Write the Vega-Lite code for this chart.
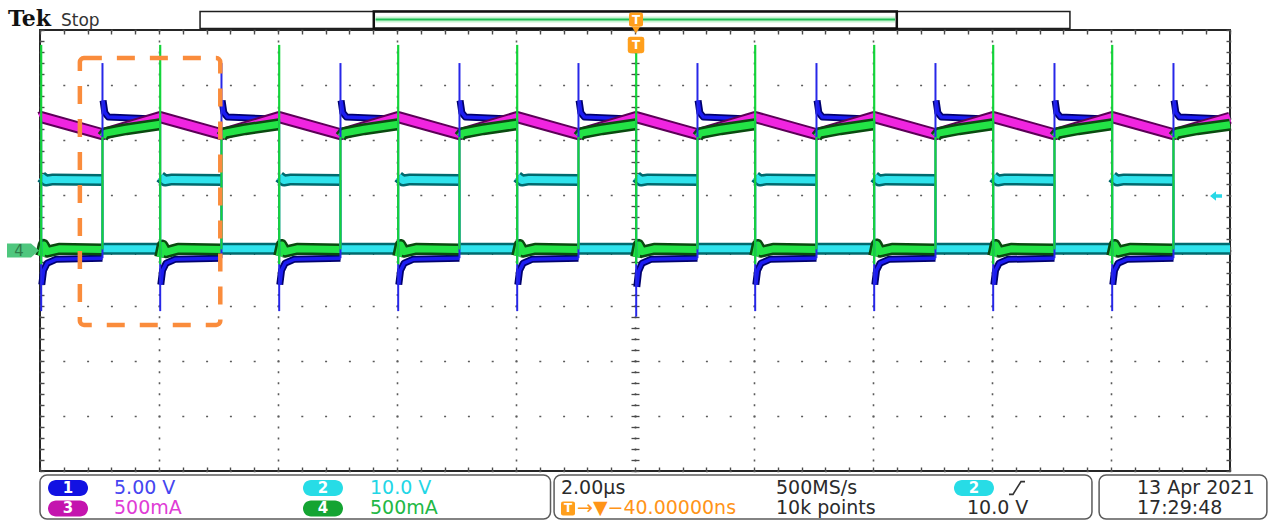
{
"$schema":"https://vega.github.io/schema/vega-lite/v6.json",
"width":1190,"height":441,
"autosize":{"type":"none"},
"padding":{"left":40,"top":30,"right":49,"bottom":50},
"background":"white",
"config":{"view":{"stroke":"#262626","strokeWidth":2},"axis":{"title":null,"labels":false,"domain":false,"ticks":false,"grid":false}},
"datasets":{
"m":[{"s":"m","t":-10,"v":2.41},{"s":"m","t":-9.98,"v":2.42},{"s":"m","t":-8.95,"v":2.11},{"s":"m","t":-7.98,"v":2.42},{"s":"m","t":-6.95,"v":2.11},{"s":"m","t":-5.98,"v":2.42},{"s":"m","t":-4.95,"v":2.11},{"s":"m","t":-3.98,"v":2.42},{"s":"m","t":-2.95,"v":2.11},{"s":"m","t":-1.98,"v":2.42},{"s":"m","t":-0.95,"v":2.11},{"s":"m","t":0.02,"v":2.42},{"s":"m","t":1.05,"v":2.11},{"s":"m","t":2.02,"v":2.42},{"s":"m","t":3.05,"v":2.11},{"s":"m","t":4.02,"v":2.42},{"s":"m","t":5.05,"v":2.11},{"s":"m","t":6.02,"v":2.42},{"s":"m","t":7.05,"v":2.11},{"s":"m","t":8.02,"v":2.42},{"s":"m","t":9.05,"v":2.11},{"s":"m","t":10,"v":2.41}],
"g":[
{"s":"a-5","t":-9.98,"v":-0.1},{"s":"a-5","t":-9.94,"v":0.1},{"s":"a-5","t":-9.88,"v":-0.02},{"s":"a-5","t":-9.68,"v":0.03},{"s":"a-5","t":-8.95,"v":0.02},
{"s":"b-5","t":-8.95,"v":2.06},{"s":"b-5","t":-8.9,"v":2.13},{"s":"b-5","t":-8.55,"v":2.2},{"s":"b-5","t":-7.98,"v":2.29},
{"s":"a-4","t":-7.98,"v":-0.12},{"s":"a-4","t":-7.94,"v":0.09},{"s":"a-4","t":-7.88,"v":-0.03},{"s":"a-4","t":-7.68,"v":0.03},{"s":"a-4","t":-6.95,"v":0.02},
{"s":"b-4","t":-6.95,"v":2.06},{"s":"b-4","t":-6.9,"v":2.13},{"s":"b-4","t":-6.55,"v":2.2},{"s":"b-4","t":-5.98,"v":2.29},
{"s":"a-3","t":-5.98,"v":-0.1},{"s":"a-3","t":-5.94,"v":0.1},{"s":"a-3","t":-5.88,"v":-0.02},{"s":"a-3","t":-5.68,"v":0.03},{"s":"a-3","t":-4.95,"v":0.02},
{"s":"b-3","t":-4.95,"v":2.06},{"s":"b-3","t":-4.9,"v":2.13},{"s":"b-3","t":-4.55,"v":2.2},{"s":"b-3","t":-3.98,"v":2.29},
{"s":"a-2","t":-3.98,"v":-0.11},{"s":"a-2","t":-3.94,"v":0.1},{"s":"a-2","t":-3.88,"v":-0.02},{"s":"a-2","t":-3.68,"v":0.03},{"s":"a-2","t":-2.95,"v":0.02},
{"s":"b-2","t":-2.95,"v":2.06},{"s":"b-2","t":-2.9,"v":2.13},{"s":"b-2","t":-2.55,"v":2.2},{"s":"b-2","t":-1.98,"v":2.29},
{"s":"a-1","t":-1.98,"v":-0.1},{"s":"a-1","t":-1.94,"v":0.1},{"s":"a-1","t":-1.88,"v":-0.02},{"s":"a-1","t":-1.68,"v":0.03},{"s":"a-1","t":-0.95,"v":0.02},
{"s":"b-1","t":-0.95,"v":2.06},{"s":"b-1","t":-0.9,"v":2.13},{"s":"b-1","t":-0.55,"v":2.2},{"s":"b-1","t":0.02,"v":2.29},
{"s":"a0","t":0.02,"v":-0.12},{"s":"a0","t":0.06,"v":0.1},{"s":"a0","t":0.12,"v":-0.02},{"s":"a0","t":0.32,"v":0.03},{"s":"a0","t":1.05,"v":0.02},
{"s":"b0","t":1.05,"v":2.06},{"s":"b0","t":1.1,"v":2.13},{"s":"b0","t":1.45,"v":2.2},{"s":"b0","t":2.02,"v":2.29},
{"s":"a1","t":2.02,"v":-0.1},{"s":"a1","t":2.06,"v":0.1},{"s":"a1","t":2.12,"v":-0.02},{"s":"a1","t":2.32,"v":0.03},{"s":"a1","t":3.05,"v":0.02},
{"s":"b1","t":3.05,"v":2.06},{"s":"b1","t":3.1,"v":2.13},{"s":"b1","t":3.45,"v":2.2},{"s":"b1","t":4.02,"v":2.29},
{"s":"a2","t":4.02,"v":-0.1},{"s":"a2","t":4.06,"v":0.11},{"s":"a2","t":4.12,"v":-0.02},{"s":"a2","t":4.32,"v":0.03},{"s":"a2","t":5.05,"v":0.02},
{"s":"b2","t":5.05,"v":2.06},{"s":"b2","t":5.1,"v":2.13},{"s":"b2","t":5.45,"v":2.2},{"s":"b2","t":6.02,"v":2.29},
{"s":"a3","t":6.02,"v":-0.1},{"s":"a3","t":6.06,"v":0.1},{"s":"a3","t":6.12,"v":-0.02},{"s":"a3","t":6.32,"v":0.03},{"s":"a3","t":7.05,"v":0.02},
{"s":"b3","t":7.05,"v":2.06},{"s":"b3","t":7.1,"v":2.13},{"s":"b3","t":7.45,"v":2.2},{"s":"b3","t":8.02,"v":2.29},
{"s":"a4","t":8.02,"v":-0.1},{"s":"a4","t":8.06,"v":0.1},{"s":"a4","t":8.12,"v":-0.02},{"s":"a4","t":8.32,"v":0.03},{"s":"a4","t":9.05,"v":0.02},
{"s":"b4","t":9.05,"v":2.06},{"s":"b4","t":9.1,"v":2.13},{"s":"b4","t":9.45,"v":2.2},{"s":"b4","t":10,"v":2.28}],
"b":[
{"s":"a-5","t":-9.97,"v":-0.62},{"s":"a-5","t":-9.94,"v":-0.36},{"s":"a-5","t":-9.88,"v":-0.23},{"s":"a-5","t":-9.73,"v":-0.16},{"s":"a-5","t":-8.95,"v":-0.14},
{"s":"b-5","t":-8.94,"v":2.72},{"s":"b-5","t":-8.91,"v":2.5},{"s":"b-5","t":-8.85,"v":2.42},{"s":"b-5","t":-7.98,"v":2.38},
{"s":"a-4","t":-7.97,"v":-0.62},{"s":"a-4","t":-7.94,"v":-0.36},{"s":"a-4","t":-7.88,"v":-0.23},{"s":"a-4","t":-7.73,"v":-0.16},{"s":"a-4","t":-6.95,"v":-0.14},
{"s":"b-4","t":-6.94,"v":2.72},{"s":"b-4","t":-6.91,"v":2.5},{"s":"b-4","t":-6.85,"v":2.42},{"s":"b-4","t":-5.98,"v":2.38},
{"s":"a-3","t":-5.97,"v":-0.62},{"s":"a-3","t":-5.94,"v":-0.36},{"s":"a-3","t":-5.88,"v":-0.23},{"s":"a-3","t":-5.73,"v":-0.16},{"s":"a-3","t":-4.95,"v":-0.14},
{"s":"b-3","t":-4.94,"v":2.72},{"s":"b-3","t":-4.91,"v":2.5},{"s":"b-3","t":-4.85,"v":2.42},{"s":"b-3","t":-3.98,"v":2.38},
{"s":"a-2","t":-3.97,"v":-0.62},{"s":"a-2","t":-3.94,"v":-0.36},{"s":"a-2","t":-3.88,"v":-0.23},{"s":"a-2","t":-3.73,"v":-0.16},{"s":"a-2","t":-2.95,"v":-0.14},
{"s":"b-2","t":-2.94,"v":2.72},{"s":"b-2","t":-2.91,"v":2.5},{"s":"b-2","t":-2.85,"v":2.42},{"s":"b-2","t":-1.98,"v":2.38},
{"s":"a-1","t":-1.97,"v":-0.62},{"s":"a-1","t":-1.94,"v":-0.36},{"s":"a-1","t":-1.88,"v":-0.23},{"s":"a-1","t":-1.73,"v":-0.16},{"s":"a-1","t":-0.95,"v":-0.14},
{"s":"b-1","t":-0.94,"v":2.72},{"s":"b-1","t":-0.91,"v":2.5},{"s":"b-1","t":-0.85,"v":2.42},{"s":"b-1","t":0.02,"v":2.38},
{"s":"a0","t":0.03,"v":-0.66},{"s":"a0","t":0.06,"v":-0.38},{"s":"a0","t":0.12,"v":-0.23},{"s":"a0","t":0.27,"v":-0.16},{"s":"a0","t":1.05,"v":-0.14},
{"s":"b0","t":1.06,"v":2.72},{"s":"b0","t":1.09,"v":2.5},{"s":"b0","t":1.15,"v":2.42},{"s":"b0","t":2.02,"v":2.38},
{"s":"a1","t":2.03,"v":-0.62},{"s":"a1","t":2.06,"v":-0.36},{"s":"a1","t":2.12,"v":-0.23},{"s":"a1","t":2.27,"v":-0.16},{"s":"a1","t":3.05,"v":-0.14},
{"s":"b1","t":3.06,"v":2.72},{"s":"b1","t":3.09,"v":2.5},{"s":"b1","t":3.15,"v":2.42},{"s":"b1","t":4.02,"v":2.38},
{"s":"a2","t":4.03,"v":-0.62},{"s":"a2","t":4.06,"v":-0.36},{"s":"a2","t":4.12,"v":-0.23},{"s":"a2","t":4.27,"v":-0.16},{"s":"a2","t":5.05,"v":-0.14},
{"s":"b2","t":5.06,"v":2.72},{"s":"b2","t":5.09,"v":2.5},{"s":"b2","t":5.15,"v":2.42},{"s":"b2","t":6.02,"v":2.38},
{"s":"a3","t":6.03,"v":-0.62},{"s":"a3","t":6.06,"v":-0.36},{"s":"a3","t":6.12,"v":-0.23},{"s":"a3","t":6.27,"v":-0.16},{"s":"a3","t":7.05,"v":-0.14},
{"s":"b3","t":7.06,"v":2.72},{"s":"b3","t":7.09,"v":2.5},{"s":"b3","t":7.15,"v":2.42},{"s":"b3","t":8.02,"v":2.38},
{"s":"a4","t":8.03,"v":-0.62},{"s":"a4","t":8.06,"v":-0.36},{"s":"a4","t":8.12,"v":-0.23},{"s":"a4","t":8.27,"v":-0.16},{"s":"a4","t":9.05,"v":-0.14},
{"s":"b4","t":9.06,"v":2.72},{"s":"b4","t":9.09,"v":2.5},{"s":"b4","t":9.15,"v":2.42},{"s":"b4","t":10,"v":2.38}],
"cy":[
{"s":"a-5","t":-9.98,"v":1.34},{"s":"a-5","t":-9.9,"v":1.27},{"s":"a-5","t":-9.78,"v":1.29},{"s":"a-5","t":-8.95,"v":1.28},{"s":"b-5","t":-8.95,"v":0.03},{"s":"b-5","t":-7.98,"v":0.03},
{"s":"a-4","t":-7.98,"v":1.34},{"s":"a-4","t":-7.9,"v":1.27},{"s":"a-4","t":-7.78,"v":1.29},{"s":"a-4","t":-6.95,"v":1.28},{"s":"b-4","t":-6.95,"v":0.03},{"s":"b-4","t":-5.98,"v":0.03},
{"s":"a-3","t":-5.98,"v":1.34},{"s":"a-3","t":-5.9,"v":1.27},{"s":"a-3","t":-5.78,"v":1.29},{"s":"a-3","t":-4.95,"v":1.28},{"s":"b-3","t":-4.95,"v":0.03},{"s":"b-3","t":-3.98,"v":0.03},
{"s":"a-2","t":-3.98,"v":1.34},{"s":"a-2","t":-3.9,"v":1.27},{"s":"a-2","t":-3.78,"v":1.29},{"s":"a-2","t":-2.95,"v":1.28},{"s":"b-2","t":-2.95,"v":0.03},{"s":"b-2","t":-1.98,"v":0.03},
{"s":"a-1","t":-1.98,"v":1.34},{"s":"a-1","t":-1.9,"v":1.27},{"s":"a-1","t":-1.78,"v":1.29},{"s":"a-1","t":-0.95,"v":1.28},{"s":"b-1","t":-0.95,"v":0.03},{"s":"b-1","t":0.02,"v":0.03},
{"s":"a0","t":0.02,"v":1.34},{"s":"a0","t":0.1,"v":1.27},{"s":"a0","t":0.22,"v":1.29},{"s":"a0","t":1.05,"v":1.28},{"s":"b0","t":1.05,"v":0.03},{"s":"b0","t":2.02,"v":0.03},
{"s":"a1","t":2.02,"v":1.34},{"s":"a1","t":2.1,"v":1.27},{"s":"a1","t":2.22,"v":1.29},{"s":"a1","t":3.05,"v":1.28},{"s":"b1","t":3.05,"v":0.03},{"s":"b1","t":4.02,"v":0.03},
{"s":"a2","t":4.02,"v":1.34},{"s":"a2","t":4.1,"v":1.27},{"s":"a2","t":4.22,"v":1.29},{"s":"a2","t":5.05,"v":1.28},{"s":"b2","t":5.05,"v":0.03},{"s":"b2","t":6.02,"v":0.03},
{"s":"a3","t":6.02,"v":1.34},{"s":"a3","t":6.1,"v":1.27},{"s":"a3","t":6.22,"v":1.29},{"s":"a3","t":7.05,"v":1.28},{"s":"b3","t":7.05,"v":0.03},{"s":"b3","t":8.02,"v":0.03},
{"s":"a4","t":8.02,"v":1.34},{"s":"a4","t":8.1,"v":1.27},{"s":"a4","t":8.22,"v":1.29},{"s":"a4","t":9.05,"v":1.28},{"s":"b4","t":9.05,"v":0.03},{"s":"b4","t":10,"v":0.03}],
"ce":[{"t":-9.98,"v":0.03,"v2":1.34},{"t":-8.95,"v":0.03,"v2":1.28},{"t":-7.98,"v":0.03,"v2":1.34},{"t":-6.95,"v":0.03,"v2":1.28},{"t":-5.98,"v":0.03,"v2":1.34},{"t":-4.95,"v":0.03,"v2":1.28},{"t":-3.98,"v":0.03,"v2":1.34},{"t":-2.95,"v":0.03,"v2":1.28},{"t":-1.98,"v":0.03,"v2":1.34},{"t":-0.95,"v":0.03,"v2":1.28},{"t":0.02,"v":0.03,"v2":1.34},{"t":1.05,"v":0.03,"v2":1.28},{"t":2.02,"v":0.03,"v2":1.34},{"t":3.05,"v":0.03,"v2":1.28},{"t":4.02,"v":0.03,"v2":1.34},{"t":5.05,"v":0.03,"v2":1.28},{"t":6.02,"v":0.03,"v2":1.34},{"t":7.05,"v":0.03,"v2":1.28},{"t":8.02,"v":0.03,"v2":1.34},{"t":9.05,"v":0.03,"v2":1.28}],
"be":[{"t":-9.98,"v":-1.1,"v2":2.38},{"t":-8.95,"v":-0.14,"v2":3.4},{"t":-7.98,"v":-1.1,"v2":2.38},{"t":-6.95,"v":-0.14,"v2":3.4},{"t":-5.98,"v":-1.1,"v2":2.38},{"t":-4.95,"v":-0.14,"v2":3.4},{"t":-3.98,"v":-1.1,"v2":2.38},{"t":-2.95,"v":-0.14,"v2":3.4},{"t":-1.98,"v":-1.1,"v2":2.38},{"t":-0.95,"v":-0.14,"v2":3.4},{"t":0.02,"v":-1.2,"v2":2.38},{"t":1.05,"v":-0.14,"v2":3.4},{"t":2.02,"v":-1.1,"v2":2.38},{"t":3.05,"v":-0.14,"v2":3.4},{"t":4.02,"v":-1.1,"v2":2.38},{"t":5.05,"v":-0.14,"v2":3.4},{"t":6.02,"v":-1.1,"v2":2.38},{"t":7.05,"v":-0.14,"v2":3.4},{"t":8.02,"v":-1.1,"v2":2.38},{"t":9.05,"v":-0.14,"v2":3.4}],
"ge":[{"t":-9.98,"v":-0.25,"v2":3.73},{"t":-8.95,"v":0.02,"v2":2.06},{"t":-7.98,"v":-0.25,"v2":3.73},{"t":-6.95,"v":0.02,"v2":2.06},{"t":-5.98,"v":-0.25,"v2":3.73},{"t":-4.95,"v":0.02,"v2":2.06},{"t":-3.98,"v":-0.25,"v2":3.73},{"t":-2.95,"v":0.02,"v2":2.06},{"t":-1.98,"v":-0.25,"v2":3.73},{"t":-0.95,"v":0.02,"v2":2.06},{"t":0.02,"v":-0.25,"v2":3.73},{"t":1.05,"v":0.02,"v2":2.06},{"t":2.02,"v":-0.25,"v2":3.73},{"t":3.05,"v":0.02,"v2":2.06},{"t":4.02,"v":-0.25,"v2":3.73},{"t":5.05,"v":0.02,"v2":2.06},{"t":6.02,"v":-0.25,"v2":3.73},{"t":7.05,"v":0.02,"v2":2.06},{"t":8.02,"v":-0.25,"v2":3.73},{"t":9.05,"v":0.02,"v2":2.06}],
"shapes":[
{"k":"box","t":-9.33,"t2":-6.97,"v":3.49,"v2":-1.35},
{"k":"rec","t":-7.31,"t2":7.31,"v":4.336,"v2":4.027},
{"k":"win","t":-4.39,"t2":4.4,"v":4.336,"v2":4.027},
{"k":"gl","t":-4.36,"t2":4.37,"v":4.19,"v2":4.19},
{"k":"panel","t":-10.0,"t2":-1.42,"v":-4.073,"v2":-4.871},
{"k":"panel","t":-1.36,"t2":7.68,"v":-4.073,"v2":-4.871},
{"k":"panel","t":7.8,"t2":10.62,"v":-4.073,"v2":-4.871}],
"markers":[
{"k":"T1","t":0.017,"v":4.19},
{"k":"T2","t":0.017,"v":3.728},
{"k":"Tf","t":-1.126,"v":-4.68},
{"k":"tri","t":0.017,"v":4.0},
{"k":"gnd","t":-10.286,"v":0},
{"k":"lvl","t":9.765,"v":0.989},
{"k":"slope","t":6.42,"v":-4.308},
{"k":"pill","t":-9.529,"v":-4.308,"g":"ch1","txt":"1"},
{"k":"pill","t":-5.244,"v":-4.308,"g":"ch2","txt":"2"},
{"k":"pill","t":-9.529,"v":-4.68,"g":"ch3","txt":"3"},
{"k":"pill","t":-5.244,"v":-4.68,"g":"ch4","txt":"4"},
{"k":"pill","t":5.697,"v":-4.308,"g":"ch2","txt":"2"}],
"labels":[
{"t":-8.756,"v":-4.308,"txt":"5.00 V","g":"ch1"},
{"t":-4.454,"v":-4.308,"txt":"10.0 V","g":"ch2"},
{"t":-8.756,"v":-4.68,"txt":"500mA","g":"ch3"},
{"t":-4.454,"v":-4.68,"txt":"500mA","g":"ch4"},
{"t":-1.244,"v":-4.308,"txt":"2.00µs","g":"info"},
{"t":2.37,"v":-4.308,"txt":"500MS/s","g":"info"},
{"t":-0.975,"v":-4.68,"txt":"→▼−40.00000ns","g":"trig"},
{"t":2.37,"v":-4.68,"txt":"10k points","g":"info"},
{"t":5.58,"v":-4.68,"txt":"10.0 V","g":"info"},
{"t":8.437,"v":-4.308,"txt":"13 Apr  2021","g":"info"},
{"t":8.437,"v":-4.68,"txt":"17:29:48","g":"info"}],
"header":[{"k":"logo","t":-10.538,"v":4.073,"txt":"Tek"},{"k":"state","t":-9.647,"v":4.073,"txt":"Stop"}]
},
"encoding":{
"x":{"field":"t","type":"quantitative","scale":{"domain":[-10,10],"nice":false,"zero":false},"axis":null},
"y":{"field":"v","type":"quantitative","scale":{"domain":[-4,4],"nice":false,"zero":false},"axis":null}},
"resolve":{"axis":{"x":"independent","y":"independent"}},
"layer":[
{"data":{"name":"ce"},"mark":{"type":"point","opacity":0},
 "encoding":{
 "x":{"field":"t","type":"quantitative","scale":{"domain":[-10,10],"nice":false,"zero":false},"axis":{"orient":"bottom","values":[-10,-8,-6,-4,-2,0,2,4,6,8,10],"grid":true,"gridColor":"#5a5a5a","gridWidth":1.6,"gridDash":[2,9.025],"gridDashOffset":1}},
 "y":{"field":"v","type":"quantitative","scale":{"domain":[-4,4],"nice":false,"zero":false},"axis":{"orient":"left","values":[-4,-3,-2,-1,0,1,2,3,4],"grid":true,"gridColor":"#5a5a5a","gridWidth":1.6,"gridDash":[2,21.8],"gridDashOffset":1}}}},
{"data":{"name":"ce"},"mark":{"type":"point","opacity":0},
 "encoding":{
 "x":{"field":"t","type":"quantitative","scale":{"domain":[-10,10],"nice":false,"zero":false},"axis":{"orient":"bottom","offset":-4,"ticks":true,"tickSize":4,"tickColor":"#4a4a4a","tickWidth":1.4,"values":[-10,-9.6,-9.2,-8.8,-8.4,-8,-7.6,-7.2,-6.8,-6.4,-6,-5.6,-5.2,-4.8,-4.4,-4,-3.6,-3.2,-2.8,-2.4,-2,-1.6,-1.2,-0.8,-0.4,0,0.4,0.8,1.2,1.6,2,2.4,2.8,3.2,3.6,4,4.4,4.8,5.2,5.6,6,6.4,6.8,7.2,7.6,8,8.4,8.8,9.2,9.6,10]}},
 "y":{"field":"v","type":"quantitative","scale":{"domain":[-4,4],"nice":false,"zero":false},"axis":{"orient":"left","offset":-4,"ticks":true,"tickSize":4,"tickColor":"#4a4a4a","tickWidth":1.4,"values":[-4,-3.8,-3.6,-3.4,-3.2,-3,-2.8,-2.6,-2.4,-2.2,-2,-1.8,-1.6,-1.4,-1.2,-1,-0.8,-0.6,-0.4,-0.2,0,0.2,0.4,0.6,0.8,1,1.2,1.4,1.6,1.8,2,2.2,2.4,2.6,2.8,3,3.2,3.4,3.6,3.8,4]}}}},
{"data":{"name":"ce"},"mark":{"type":"point","opacity":0},
 "encoding":{
 "x":{"field":"t","type":"quantitative","scale":{"domain":[-10,10],"nice":false,"zero":false},"axis":{"orient":"top","offset":-4,"ticks":true,"tickSize":4,"tickColor":"#4a4a4a","tickWidth":1.4,"values":[-10,-9.6,-9.2,-8.8,-8.4,-8,-7.6,-7.2,-6.8,-6.4,-6,-5.6,-5.2,-4.8,-4.4,-4,-3.6,-3.2,-2.8,-2.4,-2,-1.6,-1.2,-0.8,-0.4,0,0.4,0.8,1.2,1.6,2,2.4,2.8,3.2,3.6,4,4.4,4.8,5.2,5.6,6,6.4,6.8,7.2,7.6,8,8.4,8.8,9.2,9.6,10]}},
 "y":{"field":"v","type":"quantitative","scale":{"domain":[-4,4],"nice":false,"zero":false},"axis":{"orient":"right","offset":-4,"ticks":true,"tickSize":4,"tickColor":"#4a4a4a","tickWidth":1.4,"values":[-4,-3.8,-3.6,-3.4,-3.2,-3,-2.8,-2.6,-2.4,-2.2,-2,-1.8,-1.6,-1.4,-1.2,-1,-0.8,-0.6,-0.4,-0.2,0,0.2,0.4,0.6,0.8,1,1.2,1.4,1.6,1.8,2,2.2,2.4,2.6,2.8,3,3.2,3.4,3.6,3.8,4]}}}},
{"data":{"name":"ce"},"mark":{"type":"point","opacity":0},
 "encoding":{
 "x":{"field":"t","type":"quantitative","scale":{"domain":[-10,10],"nice":false,"zero":false},"axis":{"orient":"bottom","offset":-224.5,"ticks":true,"tickSize":8,"tickColor":"#4a4a4a","tickWidth":1.3,"values":[-10,-9.6,-9.2,-8.8,-8.4,-8,-7.6,-7.2,-6.8,-6.4,-6,-5.6,-5.2,-4.8,-4.4,-4,-3.6,-3.2,-2.8,-2.4,-2,-1.6,-1.2,-0.8,-0.4,0,0.4,0.8,1.2,1.6,2,2.4,2.8,3.2,3.6,4,4.4,4.8,5.2,5.6,6,6.4,6.8,7.2,7.6,8,8.4,8.8,9.2,9.6,10]}},
 "y":{"field":"v","type":"quantitative","scale":{"domain":[-4,4],"nice":false,"zero":false},"axis":{"orient":"right","offset":-599,"ticks":true,"tickSize":8,"tickColor":"#4a4a4a","tickWidth":1.3,"values":[-4,-3.8,-3.6,-3.4,-3.2,-3,-2.8,-2.6,-2.4,-2.2,-2,-1.8,-1.6,-1.4,-1.2,-1,-0.8,-0.6,-0.4,-0.2,0,0.2,0.4,0.6,0.8,1,1.2,1.4,1.6,1.8,2,2.2,2.4,2.6,2.8,3,3.2,3.4,3.6,3.8,4]}}}},
{"data":{"name":"cy"},"mark":{"type":"line","color":"#006a6e","strokeWidth":12,"strokeJoin":"round"},"encoding":{"detail":{"field":"s","type":"nominal"}}},
{"data":{"name":"cy"},"mark":{"type":"line","color":"#2fe3ec","strokeWidth":7,"strokeJoin":"round"},"encoding":{"detail":{"field":"s","type":"nominal"}}},
{"data":{"name":"b"},"mark":{"type":"line","color":"#00006e","strokeWidth":7,"strokeJoin":"round"},"encoding":{"detail":{"field":"s","type":"nominal"}}},
{"data":{"name":"b"},"mark":{"type":"line","color":"#1c1cf2","strokeWidth":3.5,"strokeJoin":"round"},"encoding":{"detail":{"field":"s","type":"nominal"}}},
{"data":{"name":"m"},"mark":{"type":"line","color":"#5c0057","strokeWidth":12,"strokeJoin":"round"},"encoding":{"detail":{"field":"s","type":"nominal"}}},
{"data":{"name":"m"},"mark":{"type":"line","color":"#f025e0","strokeWidth":8,"strokeJoin":"round"},"encoding":{"detail":{"field":"s","type":"nominal"}}},
{"data":{"name":"g"},"mark":{"type":"line","color":"#0a4a10","strokeWidth":12,"strokeJoin":"round"},"encoding":{"detail":{"field":"s","type":"nominal"}}},
{"data":{"name":"g"},"mark":{"type":"line","color":"#23e346","strokeWidth":7,"strokeJoin":"round"},"encoding":{"detail":{"field":"s","type":"nominal"}}},
{"data":{"name":"ce"},"mark":{"type":"rule","color":"#2fdce6","strokeWidth":2},"encoding":{"y2":{"field":"v2"}}},
{"data":{"name":"be"},"mark":{"type":"rule","color":"#2727e8","strokeWidth":2},"encoding":{"y2":{"field":"v2"}}},
{"data":{"name":"ge"},"mark":{"type":"rule","color":"#14d43a","strokeWidth":2.2},"encoding":{"y2":{"field":"v2"}}},
{"data":{"name":"shapes"},"transform":[{"filter":"datum.k=='box'"}],"mark":{"type":"rect","filled":false,"color":"#fa8c3c","strokeWidth":4.5,"strokeDash":[18,15],"cornerRadius":4},"encoding":{"x2":{"field":"t2"},"y2":{"field":"v2"}}},
{"data":{"name":"shapes"},"transform":[{"filter":"datum.k=='rec'"}],"mark":{"type":"rect","fill":"white","stroke":"#1e1e1e","strokeWidth":1.5},"encoding":{"x2":{"field":"t2"},"y2":{"field":"v2"}}},
{"data":{"name":"shapes"},"transform":[{"filter":"datum.k=='win'"}],"mark":{"type":"rect","fill":"white","stroke":"#111111","strokeWidth":2.5},"encoding":{"x2":{"field":"t2"},"y2":{"field":"v2"}}},
{"data":{"name":"shapes"},"transform":[{"filter":"datum.k=='gl'"}],"mark":{"type":"rule","color":"#c9f4d3","strokeWidth":6},"encoding":{"x2":{"field":"t2"}}},
{"data":{"name":"shapes"},"transform":[{"filter":"datum.k=='gl'"}],"mark":{"type":"rule","color":"#1fbf55","strokeWidth":2},"encoding":{"x2":{"field":"t2"}}},
{"data":{"name":"shapes"},"transform":[{"filter":"datum.k=='panel'"}],"mark":{"type":"rect","fill":"white","stroke":"#5b5b5b","strokeWidth":1.5,"cornerRadius":7},"encoding":{"x2":{"field":"t2"},"y2":{"field":"v2"}}},
{"data":{"name":"markers"},"transform":[{"filter":"datum.k=='tri'"}],"mark":{"type":"point","filled":true,"opacity":1,"color":"#ff9f1c","shape":"triangle-down","size":70}},
{"data":{"name":"markers"},"transform":[{"filter":"datum.k=='T1'||datum.k=='Tf'"}],"mark":{"type":"point","filled":true,"opacity":1,"color":"#ff9f1c","shape":"M-0.7,-1L0.7,-1Q1,-1,1,-0.7L1,0.7Q1,1,0.7,1L-0.7,1Q-1,1,-1,0.7L-1,-0.7Q-1,-1,-0.7,-1Z","size":196}},
{"data":{"name":"markers"},"transform":[{"filter":"datum.k=='T2'"}],"mark":{"type":"point","filled":true,"opacity":1,"color":"#ff9f1c","shape":"M-0.7,-1L0.7,-1Q1,-1,1,-0.7L1,0.7Q1,1,0.7,1L-0.7,1Q-1,1,-1,0.7L-1,-0.7Q-1,-1,-0.7,-1Z","size":272}},
{"data":{"name":"markers"},"transform":[{"filter":"datum.k=='T1'||datum.k=='Tf'||datum.k=='T2'"}],"mark":{"type":"text","color":"white","font":"DejaVu Sans","fontWeight":"bold","fontSize":12,"align":"center","baseline":"middle"},"encoding":{"text":{"value":"T"}}},
{"data":{"name":"markers"},"transform":[{"filter":"datum.k=='gnd'"}],"mark":{"type":"point","filled":true,"opacity":1,"color":"#4fc77e","shape":"M-1,-0.44L0.5,-0.44L1,0L0.5,0.44L-1,0.44Z","size":1024}},
{"data":{"name":"markers"},"transform":[{"filter":"datum.k=='gnd'"}],"mark":{"type":"text","color":"#2f7d4a","font":"DejaVu Sans","fontSize":15,"align":"center","baseline":"middle","dx":-4},"encoding":{"text":{"value":"4"}}},
{"data":{"name":"markers"},"transform":[{"filter":"datum.k=='lvl'"}],"mark":{"type":"point","filled":true,"opacity":1,"color":"#27d8e6","shape":"M-1,0L0,-0.8L0,-0.3L1,-0.3L1,0.3L0,0.3L0,0.8Z","size":144}},
{"data":{"name":"markers"},"transform":[{"filter":"datum.k=='slope'"}],"mark":{"type":"point","filled":false,"opacity":1,"color":"#333333","strokeWidth":1.6,"shape":"M-1,0.8L-0.5,0.8L0.5,-0.8L1,-0.8","size":256}},
{"data":{"name":"markers"},"transform":[{"filter":"datum.k=='pill'"}],"mark":{"type":"point","filled":true,"opacity":1,"strokeWidth":0,"shape":"M-0.6,-0.4L0.6,-0.4A0.4,0.4,0,0,1,0.6,0.4L-0.6,0.4A0.4,0.4,0,0,1,-0.6,-0.4Z","size":1600},
 "encoding":{"fill":{"field":"g","type":"nominal","scale":{"domain":["ch1","ch2","ch3","ch4"],"range":["#1212e2","#27dce6","#c414ae","#14a432"]},"legend":null}}},
{"data":{"name":"markers"},"transform":[{"filter":"datum.k=='pill'"}],"mark":{"type":"text","color":"white","font":"DejaVu Sans","fontWeight":"bold","fontSize":15,"align":"center","baseline":"middle"},"encoding":{"text":{"field":"txt"}}},
{"data":{"name":"labels"},"mark":{"type":"text","align":"left","baseline":"middle","font":"DejaVu Sans","fontSize":19},
 "encoding":{"text":{"field":"txt"},"color":{"field":"g","type":"nominal","scale":{"domain":["ch1","ch2","ch3","ch4","info","trig"],"range":["#4545f0","#22d6e6","#e03cd6","#22b845","#2b2b2b","#ff9418"]},"legend":null}}},
{"data":{"name":"header"},"transform":[{"filter":"datum.k=='logo'"}],"mark":{"type":"text","align":"left","baseline":"alphabetic","font":"DejaVu Serif","fontWeight":"bold","fontSize":22,"color":"#111111"},"encoding":{"text":{"field":"txt"}}},
{"data":{"name":"header"},"transform":[{"filter":"datum.k=='state'"}],"mark":{"type":"text","align":"left","baseline":"alphabetic","font":"DejaVu Sans","fontSize":17,"color":"#333333"},"encoding":{"text":{"field":"txt"}}}
]
}
